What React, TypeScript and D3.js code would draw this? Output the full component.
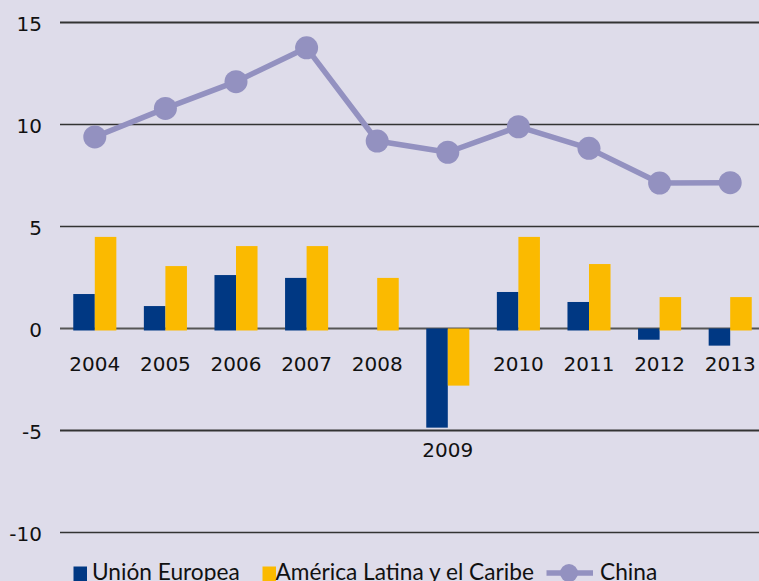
import React from "react";
import * as d3 from "d3";

const years = ["2004", "2005", "2006", "2007", "2008", "2009", "2010", "2011", "2012", "2013"];
const ueValues = [1.69, 1.1, 2.62, 2.48, 0, -4.86, 1.79, 1.3, -0.55, -0.84];
const alcValues = [4.49, 3.06, 4.04, 4.04, 2.48, -2.8, 4.49, 3.16, 1.54, 1.54];
const chinaValues = [9.39, 10.79, 12.1, 13.76, 9.19, 8.64, 9.89, 8.83, 7.13, 7.15];
const yTicks = [15, 10, 5, 0, -5, -10];
const seriesNames = ["Unión Europea", "América Latina y el Caribe", "China"];

const W = 759;
const H = 581;
const BLUE = "#003883";
const YELLOW = "#fbba00";
const LINE = "#9391c0";
const BG = "#dedcea";
const NUM_FONT = "'DejaVu Sans', sans-serif";
const LEG_FONT = "Lato, sans-serif";

export default function App() {
  const y = d3.scaleLinear().domain([-10, 15]).range([532.5, 22.5]);
  const x = d3.scaleBand<string>().domain(years).range([59.5, 765.5]).paddingInner(0.39).paddingOuter(0.195);
  const inner = d3.scaleBand<string>().domain(["ue", "alc"]).range([0, x.bandwidth()]);
  const cx = (yr: string) => (x(yr) as number) + x.bandwidth() / 2;
  const line = d3
    .line<number>()
    .x((_, i) => cx(years[i]))
    .y((v) => y(v));

  const barRect = (v: number, xPos: number, w: number, color: string, key: string) => {
    if (v === 0) return null;
    const top = v > 0 ? y(v) : y(0);
    const bottom = v > 0 ? y(0) + 2 : y(v);
    return <rect key={key} x={xPos} y={top} width={w} height={bottom - top} fill={color} />;
  };

  return (
    <svg width={W} height={H} style={{ position: "absolute", left: 0, top: 0, display: "block" }}>
      <rect x={0} y={0} width={W} height={H} fill={BG} />
      {yTicks.map((t) => (
        <g key={t}>
          <line
            x1={60}
            x2={W}
            y1={y(t)}
            y2={y(t)}
            stroke={t === 0 ? "#555" : "#333"}
            strokeWidth={t === 0 || t === 15 || t === -5 ? 2 : 1.3}
          />
          <text x={42} y={y(t) + 8.5} textAnchor="end" fontFamily={NUM_FONT} fontSize={20} fill="#111">
            {t}
          </text>
        </g>
      ))}
      {years.map((yr, i) => (
        <g key={yr}>
          {barRect(ueValues[i], (x(yr) as number) + (inner("ue") as number), inner.bandwidth(), BLUE, "u" + yr)}
          {barRect(alcValues[i], (x(yr) as number) + (inner("alc") as number), inner.bandwidth(), YELLOW, "a" + yr)}
        </g>
      ))}
      {years.map((yr, i) => {
        const neg = ueValues[i] < -3;
        return (
          <text
            key={"l" + yr}
            x={cx(yr)}
            y={neg ? 457 : 371}
            textAnchor="middle"
            fontFamily={NUM_FONT}
            fontSize={20}
            fill="#111"
          >
            {yr}
          </text>
        );
      })}
      <path d={line(chinaValues) || ""} fill="none" stroke={LINE} strokeWidth={5.5} strokeLinejoin="round" />
      {chinaValues.map((v, i) => (
        <circle key={"c" + i} cx={cx(years[i])} cy={y(v)} r={11.5} fill={LINE} />
      ))}
      {/* Legend */}
      <rect x={73.5} y={566.5} width={13.5} height={14.5} fill={BLUE} />
      <text x={92} y={579.5} fontFamily={LEG_FONT} fontSize={22.7} fill="#111">
        {seriesNames[0]}
      </text>
      <rect x={262.5} y={566.5} width={13.5} height={14.5} fill={YELLOW} />
      <text x={275.5} y={579.5} fontFamily={LEG_FONT} fontSize={22.7} fill="#111">
        {seriesNames[1]}
      </text>
      <line x1={546.5} x2={593} y1={573} y2={573} stroke={LINE} strokeWidth={5.5} />
      <circle cx={569} cy={573} r={9} fill={LINE} />
      <text x={600} y={579.5} fontFamily={LEG_FONT} fontSize={22.7} fill="#111">
        {seriesNames[2]}
      </text>
    </svg>
  );
}
